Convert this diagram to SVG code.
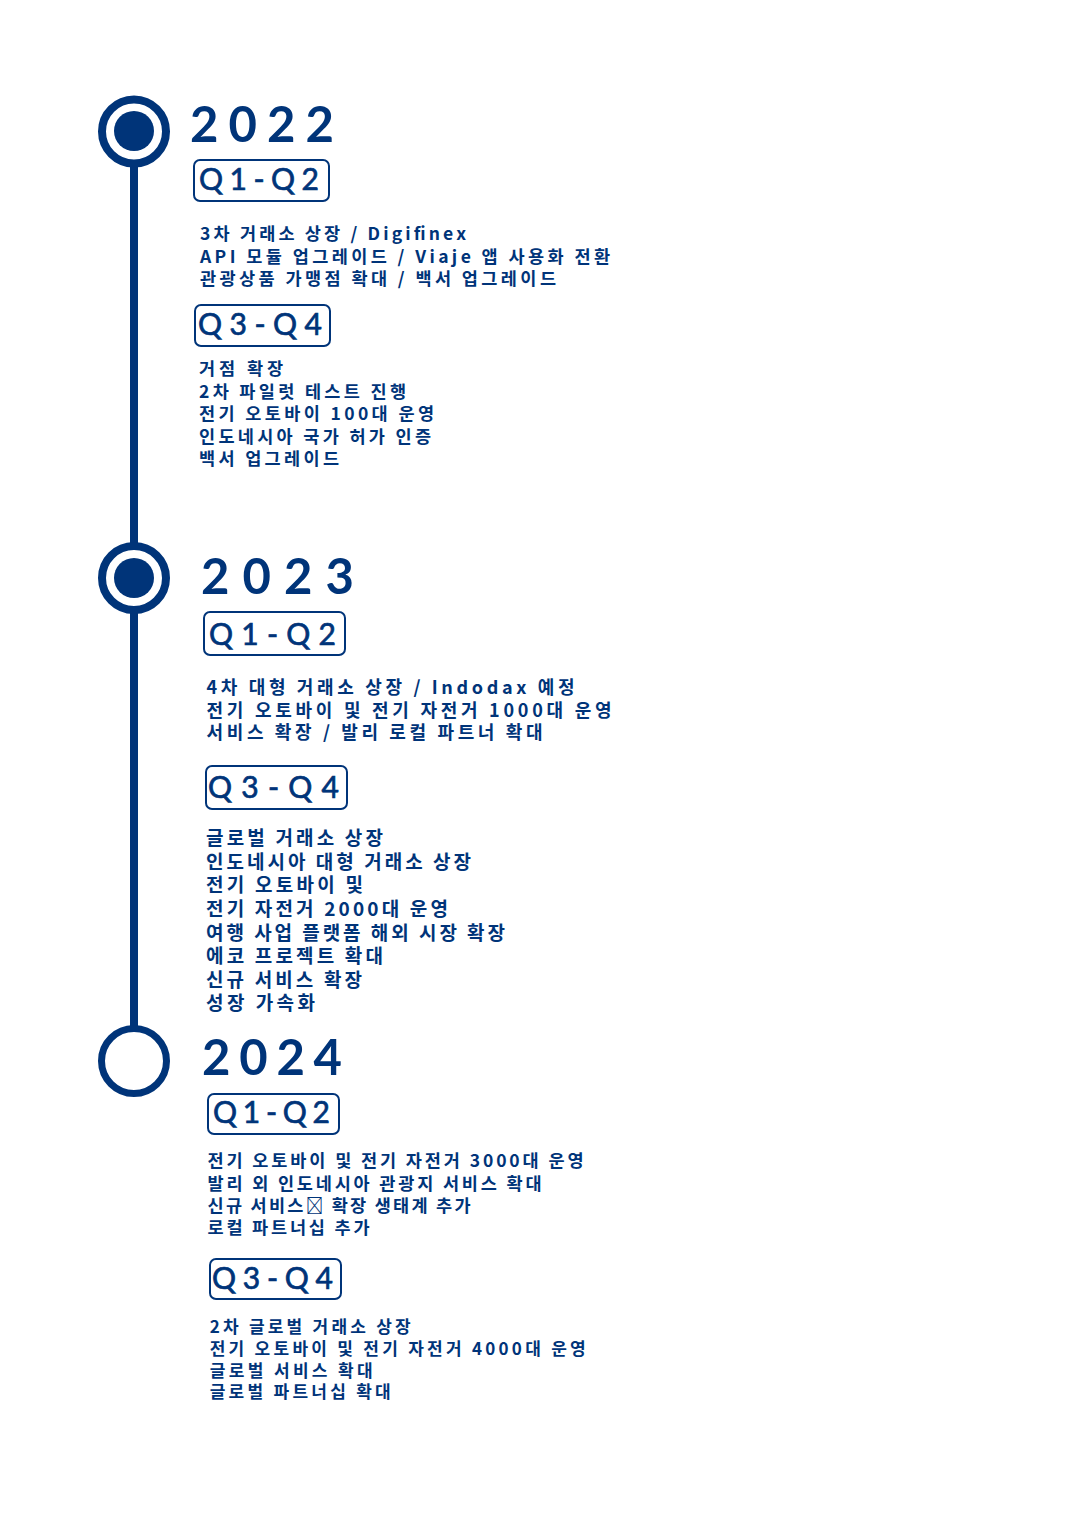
<svg xmlns="http://www.w3.org/2000/svg" width="1080" height="1536" viewBox="0 0 1080 1536">
<style>
.yr{font-family:Lato,"Noto Sans",sans-serif;font-weight:700;font-size:49px;fill:#003479}
.q{font-family:Lato,"Noto Sans",sans-serif;font-weight:400;font-size:30px;fill:#003479;stroke:#003479;stroke-width:0.7}
.qb{fill:none;stroke:#003479;stroke-width:2}
.t{font-family:"Noto Sans CJK KR","Noto Sans",sans-serif;font-weight:700;fill:#003479}
.ring{fill:#fff;stroke:#003479}
.dot{fill:#003479}
</style>
<rect width="1080" height="1536" fill="#fff"/>
<g id="connectors">
<line x1="134" y1="132" x2="134" y2="1061" stroke="#003479" stroke-width="8"/>
</g>
<g id="marker-2022">
<circle class="ring" cx="134" cy="131.5" r="32" stroke-width="8"/>
<circle class="dot" cx="134" cy="131" r="20"/>
</g>
<g id="marker-2023">
<circle class="ring" cx="134" cy="578" r="32" stroke-width="8"/>
<circle class="dot" cx="134" cy="578" r="20"/>
</g>
<g id="marker-2024">
<circle class="ring" cx="134" cy="1061" r="32.5" stroke-width="7"/>
</g>

<g id="year-2022">
<text class="yr" x="190" y="141.5" textLength="144" lengthAdjust="spacing">2022</text>
</g>
<g id="y2022-q1q2">
<rect class="qb" x="194" y="160" width="135" height="41" rx="6"/>
<text class="q" x="199" y="190" font-size="29" textLength="120" lengthAdjust="spacing">Q1-Q2</text>
<text class="t" font-size="17.5" x="200" y="240" textLength="266" lengthAdjust="spacing">3차 거래소 상장 / Digifinex</text>
<text class="t" font-size="17.5" x="200" y="262.5" textLength="410" lengthAdjust="spacing">API 모듈 업그레이드 / Viaje 앱 사용화 전환</text>
<text class="t" font-size="17.5" x="200" y="285" textLength="356" lengthAdjust="spacing">관광상품 가맹점 확대 / 백서 업그레이드</text>
</g>
<g id="y2022-q3q4">
<rect class="qb" x="195" y="305" width="135" height="41" rx="6"/>
<text class="q" x="198" y="335" font-size="29" textLength="124" lengthAdjust="spacing">Q3-Q4</text>
<text class="t" font-size="17.5" x="199" y="375.3" textLength="84" lengthAdjust="spacing">거점 확장</text>
<text class="t" font-size="17.5" x="199" y="397.8" textLength="207" lengthAdjust="spacing">2차 파일럿 테스트 진행</text>
<text class="t" font-size="17.5" x="199" y="420.3" textLength="235" lengthAdjust="spacing">전기 오토바이 100대 운영</text>
<text class="t" font-size="17.5" x="199" y="442.8" textLength="232" lengthAdjust="spacing">인도네시아 국가 허가 인증</text>
<text class="t" font-size="17.5" x="199" y="465.3" textLength="140" lengthAdjust="spacing">백서 업그레이드</text>
</g>

<g id="year-2023">
<text class="yr" x="201" y="594" textLength="153" lengthAdjust="spacing">2023</text>
</g>
<g id="y2023-q1q2">
<rect class="qb" x="204" y="612" width="141" height="43" rx="6"/>
<text class="q" x="209" y="645" font-size="31" textLength="127" lengthAdjust="spacing">Q1-Q2</text>
<text class="t" font-size="18" x="206.5" y="693.7" textLength="368" lengthAdjust="spacing">4차 대형 거래소 상장 / Indodax 예정</text>
<text class="t" font-size="18" x="206.5" y="717" textLength="405" lengthAdjust="spacing">전기 오토바이 및 전기 자전거 1000대 운영</text>
<text class="t" font-size="18" x="206.5" y="739.4" textLength="336" lengthAdjust="spacing">서비스 확장 / 발리 로컬 파트너 확대</text>
</g>
<g id="y2023-q3q4">
<rect class="qb" x="206" y="766" width="141" height="43" rx="6"/>
<text class="q" x="208" y="797.5" font-size="32" textLength="131" lengthAdjust="spacing">Q3-Q4</text>
<text class="t" font-size="19" x="206" y="845.2" textLength="177" lengthAdjust="spacing">글로벌 거래소 상장</text>
<text class="t" font-size="19" x="206" y="868.8" textLength="265" lengthAdjust="spacing">인도네시아 대형 거래소 상장</text>
<text class="t" font-size="19" x="206" y="892.4" textLength="157" lengthAdjust="spacing">전기 오토바이 및</text>
<text class="t" font-size="19" x="206" y="916" textLength="242" lengthAdjust="spacing">전기 자전거 2000대 운영</text>
<text class="t" font-size="19" x="206" y="939.6" textLength="299" lengthAdjust="spacing">여행 사업 플랫폼 해외 시장 확장</text>
<text class="t" font-size="19" x="206" y="963.2" textLength="177" lengthAdjust="spacing">에코 프로젝트 확대</text>
<text class="t" font-size="19" x="206" y="986.8" textLength="156" lengthAdjust="spacing">신규 서비스 확장</text>
<text class="t" font-size="19" x="206" y="1010.4" textLength="109" lengthAdjust="spacing">성장 가속화</text>
</g>

<g id="year-2024">
<text class="yr" x="202" y="1075" textLength="140" lengthAdjust="spacing">2024</text>
</g>
<g id="y2024-q1q2">
<rect class="qb" x="208" y="1094" width="131" height="40" rx="6"/>
<text class="q" x="213" y="1123" font-size="30" textLength="117" lengthAdjust="spacing">Q1-Q2</text>
<text class="t" font-size="17.5" x="207.5" y="1167" textLength="376" lengthAdjust="spacing">전기 오토바이 및 전기 자전거 3000대 운영</text>
<text class="t" font-size="17.5" x="207.5" y="1189.5" textLength="334" lengthAdjust="spacing">발리 외 인도네시아 관광지 서비스 확대</text>
<text class="t" font-size="17.5" x="207.5" y="1212" textLength="263" lengthAdjust="spacing">신규 서비스&#xE000; 확장 생태계 추가</text>
<text class="t" font-size="17.5" x="207.5" y="1234" textLength="162" lengthAdjust="spacing">로컬 파트너십 추가</text>
</g>
<g id="y2024-q3q4">
<rect class="qb" x="210" y="1259" width="131" height="40" rx="6"/>
<text class="q" x="212" y="1289" font-size="29" textLength="121" lengthAdjust="spacing">Q3-Q4</text>
<text class="t" font-size="17" x="209.7" y="1333" textLength="201" lengthAdjust="spacing">2차 글로벌 거래소 상장</text>
<text class="t" font-size="17" x="209.7" y="1354.5" textLength="376" lengthAdjust="spacing">전기 오토바이 및 전기 자전거 4000대 운영</text>
<text class="t" font-size="17" x="209.7" y="1376.5" textLength="163" lengthAdjust="spacing">글로벌 서비스 확대</text>
<text class="t" font-size="17" x="209.7" y="1398" textLength="181" lengthAdjust="spacing">글로벌 파트너십 확대</text>
</g>
</svg>
